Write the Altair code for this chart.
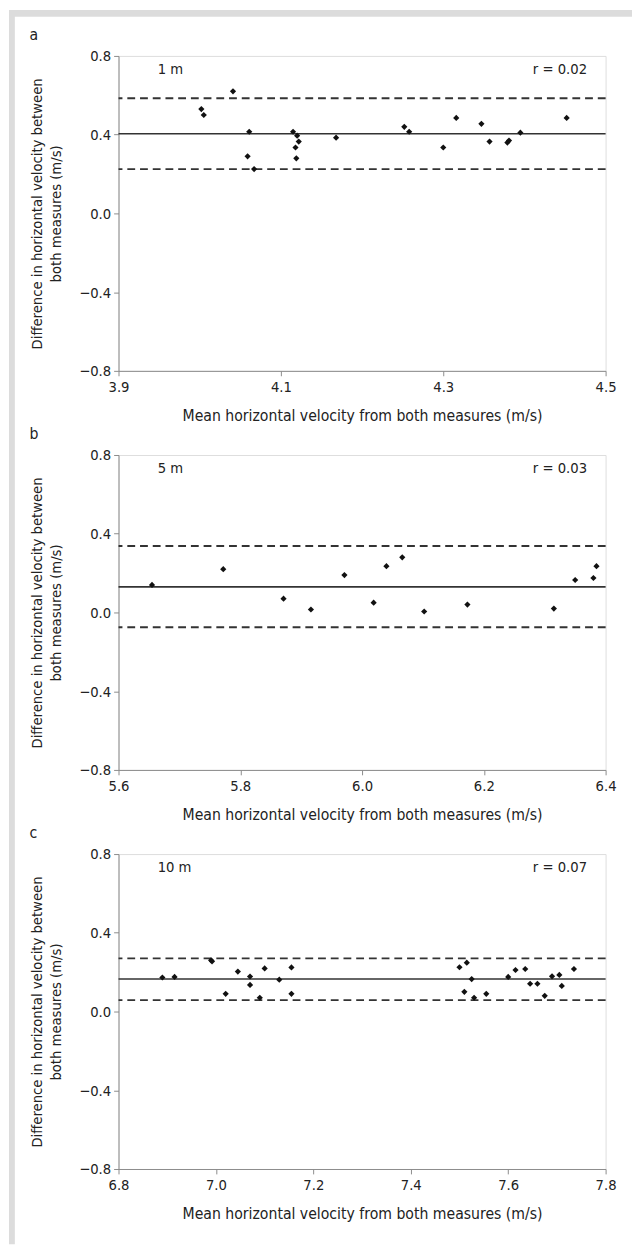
import altair as alt
import pandas as pd

# ---------------- data ----------------
a_x = [4.002, 4.005, 4.041, 4.061, 4.059, 4.067, 4.115, 4.120, 4.122, 4.118, 4.119,
       4.168, 4.252, 4.258, 4.316, 4.300, 4.347, 4.357, 4.379, 4.381, 4.395, 4.452]
a_y = [0.53, 0.50, 0.62, 0.415, 0.29, 0.225, 0.415, 0.395, 0.365, 0.335, 0.28,
       0.385, 0.44, 0.415, 0.485, 0.335, 0.455, 0.365, 0.36, 0.37, 0.41, 0.485]
a_lines = [0.405, 0.585, 0.225]  # mean, upper, lower

b_x = [5.655, 5.772, 5.871, 5.916, 5.971, 6.019, 6.040, 6.066, 6.102, 6.173,
       6.315, 6.350, 6.380, 6.385]
b_y = [0.14, 0.22, 0.07, 0.015, 0.19, 0.05, 0.235, 0.28, 0.005, 0.04,
       0.02, 0.165, 0.175, 0.235]
b_lines = [0.13, 0.338, -0.075]

c_x = [6.89, 6.915, 6.99, 6.992, 7.02, 7.045, 7.07, 7.07, 7.09, 7.10, 7.13, 7.155, 7.155,
       7.50, 7.51, 7.515, 7.525, 7.53, 7.555, 7.60, 7.615, 7.635, 7.645, 7.66,
       7.675, 7.69, 7.705, 7.71, 7.735]
c_y = [0.173, 0.176, 0.26, 0.255, 0.09, 0.203, 0.178, 0.135, 0.07, 0.219, 0.162, 0.224, 0.09,
       0.225, 0.10, 0.248, 0.165, 0.07, 0.09, 0.176, 0.211, 0.216, 0.141, 0.141,
       0.08, 0.179, 0.186, 0.13, 0.216]
c_lines = [0.165, 0.27, 0.058]

y_ticks = [-0.8, -0.4, 0.0, 0.4, 0.8]
x_title = "Mean horizontal velocity from both measures (m/s)"
y_title = ["Difference in horizontal velocity between", "both measures (m/s)"]

FONT = "DejaVu Sans Condensed, Liberation Sans Narrow, DejaVu Sans, sans-serif"
W, H = 498, 322
INK = "#222222"
AXC = "#8a8a8a"
FS = 15


def panel(xs, ys, lines, xdom, xticks, dist_label, r_label, letter, frame=False):
    pts_df = pd.DataFrame({"x": xs, "y": ys})
    xenc = alt.X(
        "x:Q",
        scale=alt.Scale(domain=xdom, nice=False, zero=False),
        axis=alt.Axis(values=xticks, format=".1f", title=x_title, grid=False,
                      labelFontSize=FS, titleFontSize=16, titleFontWeight="normal",
                      labelColor=INK, titleColor=INK, domainColor=AXC, tickColor=AXC,
                      tickSize=5, labelPadding=4, labelFlush=False, titleY=38,
                      titleX=W / 2),
    )
    yenc = alt.Y(
        "y:Q",
        scale=alt.Scale(domain=[-0.8, 0.8], nice=False, zero=False),
        axis=alt.Axis(values=y_ticks, format=".1f", title=y_title, grid=False,
                      labelFontSize=FS, titleFontSize=FS, titleFontWeight="normal",
                      labelColor=INK, titleColor=INK, domainColor=AXC, tickColor=AXC,
                      tickSize=5, labelPadding=3, titleX=-76, titleY=H / 2,
                      titleLineHeight=20),
    )
    pts = alt.Chart(pts_df).mark_point(shape="diamond", filled=True, size=40,
                                       color="#111111", opacity=1).encode(x=xenc, y=yenc)
    mean_rule = alt.Chart(pd.DataFrame({"y": [lines[0]]})).mark_rule(
        color="#333333", strokeWidth=1.6).encode(y=yenc)
    lim_rule = alt.Chart(pd.DataFrame({"y": lines[1:]})).mark_rule(
        color="#333333", strokeWidth=2, strokeDash=[8, 5]).encode(y=yenc)

    txt = pd.DataFrame({"t": [dist_label]})
    dist_t = alt.Chart(txt).mark_text(align="left", baseline="middle", fontSize=FS,
                                      color=INK, font=FONT).encode(
        x=alt.value(40), y=alt.value(13), text="t:N")
    rtxt = pd.DataFrame({"t": [r_label]})
    r_t = alt.Chart(rtxt).mark_text(align="right", baseline="middle", fontSize=FS,
                                    color=INK, font=FONT).encode(
        x=alt.value(479), y=alt.value(13), text="t:N")
    ltxt = pd.DataFrame({"t": [letter]})
    let_t = alt.Chart(ltxt).mark_text(align="left", baseline="middle", fontSize=16,
                                      color=INK, font=FONT).encode(
        x=alt.value(-91), y=alt.value(-21), text="t:N")

    layers = [lim_rule, mean_rule, pts, dist_t, r_t, let_t]
    if frame:
        fdf = pd.DataFrame({"k": ["top"]})
        top_band = alt.Chart(fdf).mark_rect(color="#dcdcdc").encode(
            x=alt.value(-112), x2=alt.value(525), y=alt.value(-47), y2=alt.value(-40))
        left_band = alt.Chart(fdf).mark_rect(color="#dcdcdc").encode(
            x=alt.value(-112), x2=alt.value(-106), y=alt.value(-47), y2=alt.value(1215))
        layers = [top_band, left_band] + layers
    return alt.layer(*layers).properties(width=W, height=H)


pa = panel(a_x, a_y, a_lines, [3.9, 4.5], [3.9, 4.1, 4.3, 4.5], "1 m", "r = 0.02", "a", frame=True)
pb = panel(b_x, b_y, b_lines, [5.6, 6.4], [5.6, 5.8, 6.0, 6.2, 6.4], "5 m", "r = 0.03", "b")
pc = panel(c_x, c_y, c_lines, [6.8, 7.8], [6.8, 7.0, 7.2, 7.4, 7.6, 7.8], "10 m", "r = 0.07", "c")

chart = alt.vconcat(pa, pb, pc, spacing=86, bounds="flush").properties(
    padding={"top": -13, "left": 0, "right": 0, "bottom": 0}, background="white"
).configure_view(
    fill="#f9f9f9", stroke=None
).configure(
    font=FONT
)

chart.save("out.html", embed_options={"renderer": "svg", "actions": False})
